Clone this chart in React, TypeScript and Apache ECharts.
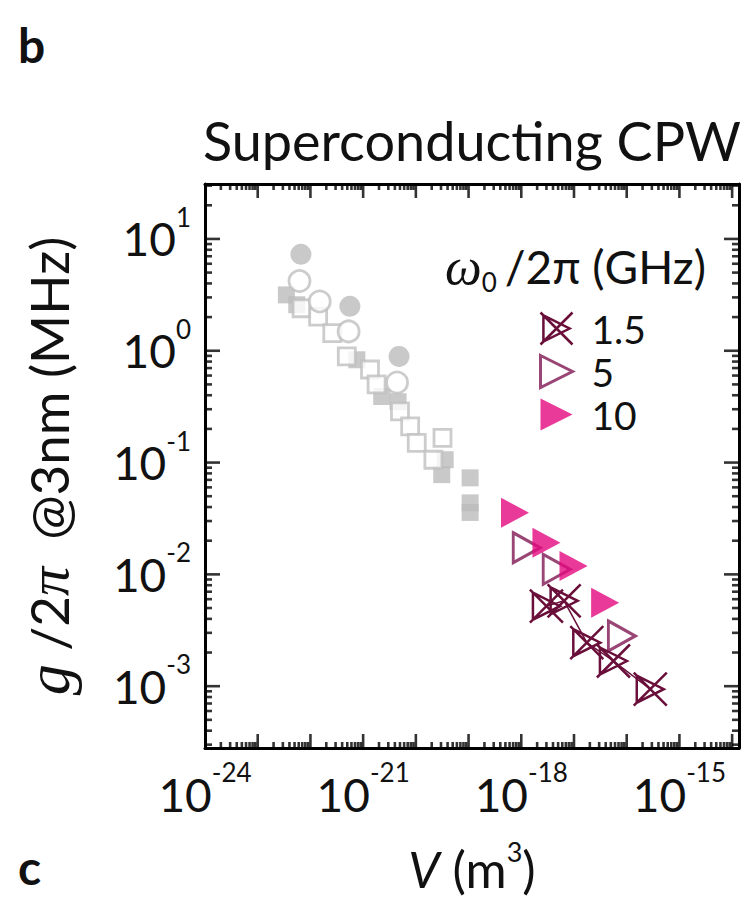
import React, { useEffect, useRef } from 'react';
import * as echarts from 'echarts';

// ---- data (V in m^3, g/2pi in MHz) ----
const grayFilledCircles = [[6.6e-23, 7.3], [5.6e-22, 2.5], [4.8e-21, 0.89]];
const grayOpenCircles = [[6.2e-23, 4.2], [1.5e-22, 2.76], [5.3e-22, 1.49], [4.4e-21, 0.52]];
const grayFilledSquares = [
  [3.5e-23, 3.16], [5.5e-23, 2.58], [7.6e-22, 0.83], [2.25e-21, 0.39], [4.6e-21, 0.35],
  [3.1e-20, 0.078], [3.6e-20, 0.106], [1.07e-19, 0.073], [1.07e-19, 0.0436], [1.07e-19, 0.0358],
];
const grayOpenSquares = [
  [6.8e-23, 2.4], [1.4e-22, 2.02], [2.6e-22, 1.44], [4.9e-22, 0.89], [1.35e-21, 0.68],
  [1.8e-21, 0.5], [5.0e-21, 0.287], [7.8e-21, 0.211], [1.04e-20, 0.15], [3.2e-20, 0.166], [2.15e-20, 0.106],
];
const ghz10 = [[7.6e-19, 0.0356], [3.0e-18, 0.0192], [9.8e-18, 0.01186], [3.9e-17, 0.00558]];
const ghz5 = [[1.27e-18, 0.0173], [4.7e-18, 0.0111], [8.1e-17, 0.00281]];
const ghz1p5 = [[3.0e-18, 0.0052], [6.5e-18, 0.0058], [1.75e-17, 0.00245], [5.6e-17, 0.00168], [2.8e-16, 0.00094]];

// ---- axis ranges & ticks (V in m^3) ----
const X_MIN_M3 = 1e-24;
const X_MAX_M3 = 1.35e-14;
const Y_MIN = 2.8e-4;
const Y_MAX = 31;
const xDecades = [-24, -23, -22, -21, -20, -19, -18, -17, -16, -15, -14];
const yDecades = [-4, -3, -2, -1, 0, 1];
const minorMultipliers = [2, 3, 4, 5, 6, 7, 8, 9];
const xLabelExponents = [-24, -21, -18, -15];

// ECharts' log scale rounds very small numbers to 0, so the x axis works in nm^3 (1 m^3 = 1e27 nm^3)
const M3_TO_NM3_EXP = 27;
const toAxis = (v: number) => v * Math.pow(10, M3_TO_NM3_EXP);
const conv = (arr: number[][]) => arr.map(([x, y]) => [toAxis(x), y]);
const X_MIN = toAxis(X_MIN_M3);
const X_MAX = toAxis(X_MAX_M3);

const FONT = 'Lato';
const SERIF = 'Liberation Serif';
const PINK = '#e4097f';
const DARK = '#6a0e3a';
const OPEN_TRI = '#7f1752';
const GRAY = '#bcbcbc';

const TRI = 'path://M0,0 L10,5 L0,10 Z';
const TRI_X = 'path://M1,1 L10,5.5 L1,10 Z M0,0 L11,11 M0,11 L11,0';

// tick positions on both axes (major decades + log minor ticks)
const xMajor: number[] = [];
const xMinor: number[] = [];
xDecades.forEach((d) => {
  const major = Math.pow(10, d);
  if (major > X_MIN_M3 && major < X_MAX_M3) xMajor.push(toAxis(major));
  minorMultipliers.forEach((m) => {
    const v = m * major;
    if (v > X_MIN_M3 && v < X_MAX_M3) xMinor.push(toAxis(v));
  });
});
const yMajor: number[] = [];
const yMinor: number[] = [];
yDecades.forEach((d) => {
  const major = Math.pow(10, d);
  if (major > Y_MIN && major < Y_MAX) yMajor.push(major);
  minorMultipliers.forEach((m) => {
    const v = m * major;
    if (v > Y_MIN && v < Y_MAX) yMinor.push(v);
  });
});

const MAJ_LEN = 14;
const MIN_LEN = 6;
const TW = 2.6;
const tickItems: any[] = [];
const addX = (vals: number[], len: number) => vals.forEach((x) => {
  tickItems.push({ value: [x, Y_MIN], symbolSize: [TW, len], symbolOffset: [0, -len / 2] });
  tickItems.push({ value: [x, Y_MAX], symbolSize: [TW, len], symbolOffset: [0, len / 2] });
});
const addY = (vals: number[], len: number) => vals.forEach((y) => {
  tickItems.push({ value: [X_MIN, y], symbolSize: [len, TW], symbolOffset: [len / 2, 0] });
  tickItems.push({ value: [X_MAX, y], symbolSize: [len, TW], symbolOffset: [-len / 2, 0] });
});
addX(xMajor, MAJ_LEN);
addX(xMinor, MIN_LEN);
addY(yMajor, MAJ_LEN + 1);
addY(yMinor, MIN_LEN + 1);

const expOf = (v: number) => {
  const e = Math.log10(v);
  const r = Math.round(e);
  return Math.abs(e - r) < 1e-6 ? r : null;
};

const supRich = {
  b: { fontFamily: FONT, fontSize: 46, lineHeight: 70, color: '#111' },
  s: { fontFamily: FONT, fontSize: 26, lineHeight: 26, verticalAlign: 'top', color: '#111' },
};

export default function App() {
  const ref = useRef<HTMLDivElement>(null);
  useEffect(() => {
    if (!ref.current) return;
    const chart = echarts.init(ref.current, undefined, { renderer: 'svg' });
    const axisLine = { show: true, lineStyle: { color: '#000', width: 3 } };
    const noTick = { show: false };
    const option: any = {
      animation: false,
      backgroundColor: '#fff',
      grid: { left: 205, top: 184, right: 9, bottom: 150, containLabel: false },
      xAxis: [
        {
          type: 'log', logBase: 10, min: X_MIN, max: X_MAX, interval: 1,
          position: 'bottom', axisLine, axisTick: noTick, splitLine: { show: false },
          axisLabel: {
            show: true, margin: 11, showMinLabel: true, showMaxLabel: true,
            formatter: (v: number) => {
              const e = expOf(v);
              if (e === null) return '';
              const em = e - M3_TO_NM3_EXP;
              return xLabelExponents.includes(em) ? `{b|10}{s|${em}}` : '';
            },
            rich: supRich,
          },
          name: '{v|V}{t| (m}{s|3}{t|)}',
          nameLocation: 'middle', nameGap: 90,
          nameTextStyle: {
            rich: {
              v: { fontFamily: FONT, fontStyle: 'italic', fontSize: 50, lineHeight: 62, color: '#111' },
              t: { fontFamily: FONT, fontSize: 50, lineHeight: 62, color: '#111' },
              s: { fontFamily: FONT, fontSize: 27, lineHeight: 27, verticalAlign: 'top', color: '#111' },
            },
          },
        },
        {
          type: 'log', logBase: 10, min: X_MIN, max: X_MAX, interval: 1,
          position: 'top', axisLine, axisTick: noTick, axisLabel: { show: false }, splitLine: { show: false },
        },
      ],
      yAxis: [
        {
          type: 'log', logBase: 10, min: Y_MIN, max: Y_MAX,
          position: 'left', axisLine, axisTick: noTick, splitLine: { show: false },
          axisLabel: {
            show: true, margin: 14,
            formatter: (v: number) => {
              const e = expOf(v);
              return e !== null ? `{b|10}{s|${e}}` : '';
            },
            rich: supRich,
          },
          name: '{g|g}{t| /2}{p|π}{t|  @3nm (MHz)}',
          nameLocation: 'middle', nameRotate: 90, nameGap: 126,
          nameTextStyle: {
            rich: {
              g: { fontFamily: SERIF, fontStyle: 'italic', fontSize: 62, color: '#111' },
              p: { fontFamily: SERIF, fontStyle: 'italic', fontSize: 58, color: '#111' },
              t: { fontFamily: FONT, fontSize: 53, color: '#111' },
            },
          },
        },
        {
          type: 'log', logBase: 10, min: Y_MIN, max: Y_MAX,
          position: 'right', axisLine, axisTick: noTick, axisLabel: { show: false }, splitLine: { show: false },
        },
      ],
      legend: {
        data: [
          { name: '1.5', icon: TRI_X, itemStyle: { color: 'rgba(0,0,0,0)', borderColor: DARK, borderWidth: 2.5 } },
          { name: '5', icon: TRI, itemStyle: { color: '#fff', borderColor: OPEN_TRI, borderWidth: 3 } },
          { name: '10', icon: TRI, itemStyle: { color: PINK, borderColor: PINK, borderWidth: 0 } },
        ],
        orient: 'vertical', left: 534, top: 304, itemWidth: 32, itemHeight: 32, itemGap: 4,
        textStyle: { fontFamily: FONT, fontSize: 39, lineHeight: 38, color: '#111', padding: [0, 0, 0, 14] },
        selectedMode: false,
      },
      graphic: [
        { type: 'text', left: 18, top: 20, style: { text: 'b', font: `bold 48px ${FONT}`, fill: '#111' } },
        { type: 'text', left: 18, top: 842, style: { text: 'c', font: `bold 48px ${FONT}`, fill: '#111' } },
        { type: 'text', right: 7, top: 113, style: { text: 'Superconducting CPW', font: `54px ${FONT}`, fill: '#111' } },
        {
          type: 'text', left: 445, top: 240,
          style: {
            text: '{w|ω}{sub|0}{t|/2π (GHz)}',
            rich: {
              w: { fontFamily: SERIF, fontStyle: 'italic', fontSize: 52, lineHeight: 58, fill: '#111', color: '#111' },
              sub: { fontFamily: FONT, fontSize: 26, lineHeight: 26, verticalAlign: 'bottom', fill: '#111', color: '#111', padding: [0, 8, 0, 0] },
              t: { fontFamily: FONT, fontSize: 46, lineHeight: 58, fill: '#111', color: '#111' },
            },
          },
        },
      ],
      series: [
        {
          type: 'scatter', name: 'ticks', silent: true, clip: false, z: 10, symbol: 'rect',
          data: tickItems, itemStyle: { color: '#000' },
        },
        {
          type: 'scatter', name: 'sq-filled', data: conv(grayFilledSquares), symbol: 'rect', symbolSize: 17,
          itemStyle: { color: GRAY }, z: 2,
        },
        {
          type: 'scatter', name: 'sq-open', data: conv(grayOpenSquares), symbol: 'rect', symbolSize: 17,
          itemStyle: { color: '#fff', borderColor: '#bfbfbf', borderWidth: 2.8 }, z: 2,
        },
        {
          type: 'scatter', name: 'ci-filled', data: conv(grayFilledCircles), symbol: 'circle', symbolSize: 21,
          itemStyle: { color: GRAY }, z: 3,
        },
        {
          type: 'scatter', name: 'ci-open', data: conv(grayOpenCircles), symbol: 'circle', symbolSize: 21,
          itemStyle: { color: '#fff', borderColor: '#bfbfbf', borderWidth: 2.8 }, z: 3,
        },
        {
          type: 'scatter', name: '5', data: conv(ghz5), symbol: TRI, symbolSize: [27, 30],
          itemStyle: { color: '#fff', borderColor: OPEN_TRI, borderWidth: 3 }, z: 4,
        },
        {
          type: 'scatter', name: '10', data: conv(ghz10), symbol: TRI, symbolSize: [28, 30],
          itemStyle: { color: PINK }, z: 5,
        },
        {
          type: 'line', name: '1.5', data: conv(ghz1p5), symbol: TRI_X, symbolSize: [33, 33], showSymbol: true,
          lineStyle: { color: DARK, width: 1.5 },
          itemStyle: { color: 'rgba(0,0,0,0)', borderColor: DARK, borderWidth: 2.5 }, z: 6,
        },
      ],
    };
    chart.setOption(option);
    return () => chart.dispose();
  }, []);
  return <div ref={ref} style={{ position: 'fixed', left: 0, top: 0, width: 748, height: 899, background: '#fff' }} />;
}
